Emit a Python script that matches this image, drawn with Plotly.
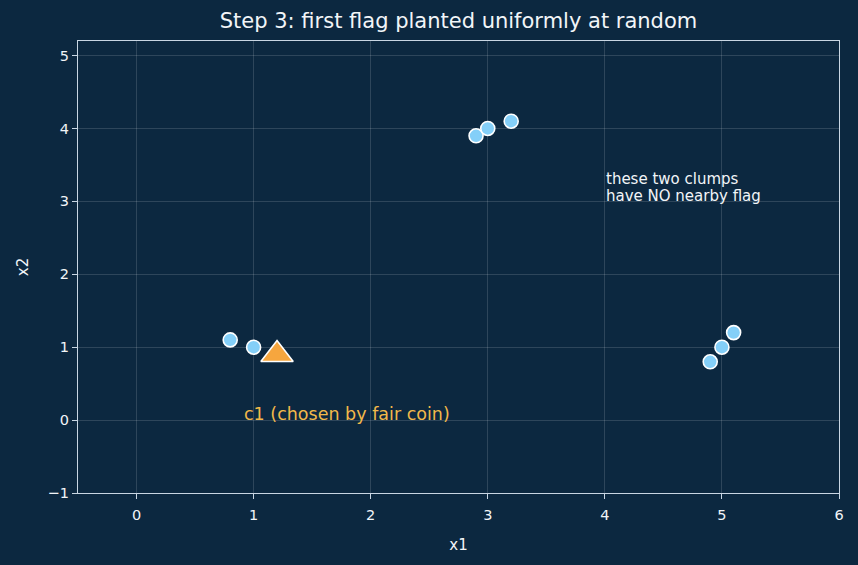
import plotly.graph_objects as go

# data
pts_x1 = [0.8, 1.0, 2.9, 3.0, 3.2, 4.9, 5.0, 5.1]
pts_x2 = [1.1, 1.0, 3.9, 4.0, 4.1, 0.8, 1.0, 1.2]
flag_x1 = [1.2]
flag_x2 = [0.9]
flag_label = "c1 (chosen by fair coin)"
note_lines = ["these two clumps", "have NO nearby flag"]

bg = "#0c2840"
fg = "#f2f5f8"
axis_col = "#c9d6e3"
FONT = "DejaVu Sans"

fig = go.Figure()
fig.add_trace(go.Scatter(
    x=pts_x1, y=pts_x2, mode="markers",
    marker=dict(size=14, color="#84cff8", line=dict(color="white", width=1.6)),
    showlegend=False, hoverinfo="skip"))
fig.add_trace(go.Scatter(
    x=flag_x1, y=flag_x2, mode="markers",
    marker=dict(size=28, symbol="triangle-up", color="#f6a63e",
                line=dict(color="white", width=1.6)),
    showlegend=False, hoverinfo="skip"))

fig.add_annotation(x=0.9, y=0.0, xref="x", yref="y", text=flag_label,
                   showarrow=False, xanchor="left", yanchor="bottom", yshift=-6,
                   font=dict(size=17.5, color="#f2b94a", family=FONT))
for i, line in enumerate(note_lines):
    fig.add_annotation(x=4.0, y=3.0, xref="x", yref="y", text=line,
                       showarrow=False, xanchor="left", yanchor="bottom", align="left",
                       yshift=-5 + 17.5 * (len(note_lines) - 1 - i), borderpad=0,
                       font=dict(size=15, color=fg, family=FONT))

axis_common = dict(
    showgrid=True, gridcolor="rgba(255,255,255,0.14)", gridwidth=1,
    zeroline=False, showline=True, linecolor=axis_col, linewidth=1.3, mirror=True,
    ticks="outside", ticklen=5, tickcolor=axis_col, tickwidth=1,
    tickfont=dict(size=14.5, color=fg, family=FONT),
)
fig.update_xaxes(range=[-0.5, 6], dtick=1, tick0=0, ticklabelstandoff=3,
                 title=dict(text="x1", font=dict(size=15, color=fg, family=FONT), standoff=17),
                 **axis_common)
fig.update_yaxes(range=[-1, 5.2], dtick=1, tick0=0,
                 title=dict(text="x2", font=dict(size=15, color=fg, family=FONT), standoff=15),
                 **axis_common)

fig.update_layout(
    width=858, height=565,
    paper_bgcolor=bg, plot_bgcolor=bg,
    margin=dict(l=78, r=19, t=41, b=72),
    title=dict(text="Step 3: first flag planted uniformly at random",
               x=0.5, xref="paper", xanchor="center", y=1 - 21/565, yanchor="middle",
               font=dict(size=21, color=fg, family=FONT)),
    font=dict(family=FONT, color=fg),
)

fig.write_html("out.html")
